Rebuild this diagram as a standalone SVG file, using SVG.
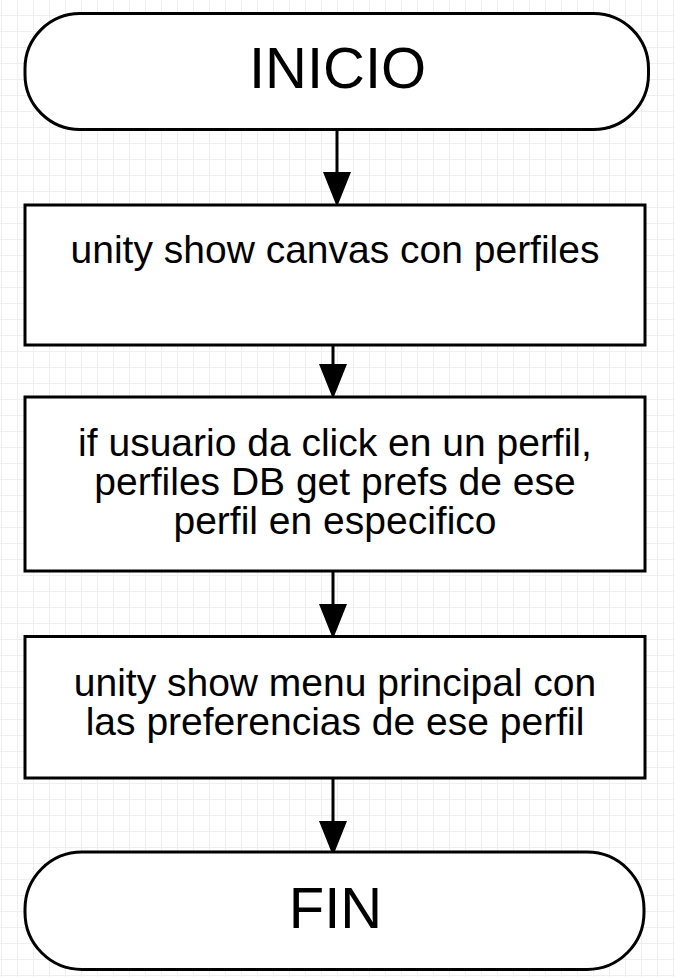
<svg xmlns="http://www.w3.org/2000/svg" width="675" height="977" viewBox="0 0 675 977">
  <style>
    .shape { fill: #ffffff; stroke: #000000; stroke-width: 3; }
    .conn { stroke: #000000; stroke-width: 3; fill: none; marker-end: url(#arrow); }
    .lbl { font-family: "Liberation Sans", Arial, sans-serif; font-size: 39px; fill: #000000; text-anchor: middle; }
    .big { font-family: "Liberation Sans", Arial, sans-serif; font-size: 58px; fill: #000000; text-anchor: middle; }
  </style>
  <defs>
    <pattern id="grid" patternUnits="userSpaceOnUse" x="0" y="0" width="16" height="16">
      <path d="M1.5 0V16M0 15.5H16" stroke="#efefef" stroke-width="1" fill="none"/>
    </pattern>
    <marker id="arrow" viewBox="0 0 35 28" refX="29" refY="14" markerWidth="35" markerHeight="28" markerUnits="userSpaceOnUse" orient="auto">
      <path d="M0,0 L35,14 L0,28 Z" fill="#000000"/>
    </marker>
  </defs>
  <rect x="0" y="0" width="675" height="977" fill="#ffffff"/>
  <rect x="0" y="0" width="675" height="977" fill="url(#grid)"/>

  <g id="connectors">
    <line class="conn" x1="337" y1="130" x2="337" y2="201"/>
    <line class="conn" x1="333" y1="345" x2="333" y2="393"/>
    <line class="conn" x1="333" y1="571" x2="333" y2="633"/>
    <line class="conn" x1="333" y1="778" x2="333" y2="850"/>
  </g>

  <g id="inicio">
    <rect class="shape" x="25" y="13.5" width="623.5" height="116" rx="55" ry="55"/>
    <text class="big" x="337.5" y="88">INICIO</text>
  </g>

  <g id="canvas-perfiles">
    <rect class="shape" x="25" y="205" width="620" height="140"/>
    <text class="lbl" x="335" y="263">unity show canvas con perfiles</text>
  </g>

  <g id="click-perfil">
    <rect class="shape" x="25" y="397" width="620" height="174"/>
    <text class="lbl" x="335" y="456">if usuario da click en un perfil,</text>
    <text class="lbl" x="335" y="495">perfiles DB get prefs de ese</text>
    <text class="lbl" x="335" y="534">perfil en especifico</text>
  </g>

  <g id="menu-principal">
    <rect class="shape" x="25" y="636.5" width="620" height="141.5"/>
    <text class="lbl" x="335" y="696">unity show menu principal con</text>
    <text class="lbl" x="335" y="735">las preferencias de ese perfil</text>
  </g>

  <g id="fin">
    <rect class="shape" x="25" y="852" width="619" height="117.5" rx="57" ry="57"/>
    <text class="big" x="335.5" y="928">FIN</text>
  </g>
</svg>
